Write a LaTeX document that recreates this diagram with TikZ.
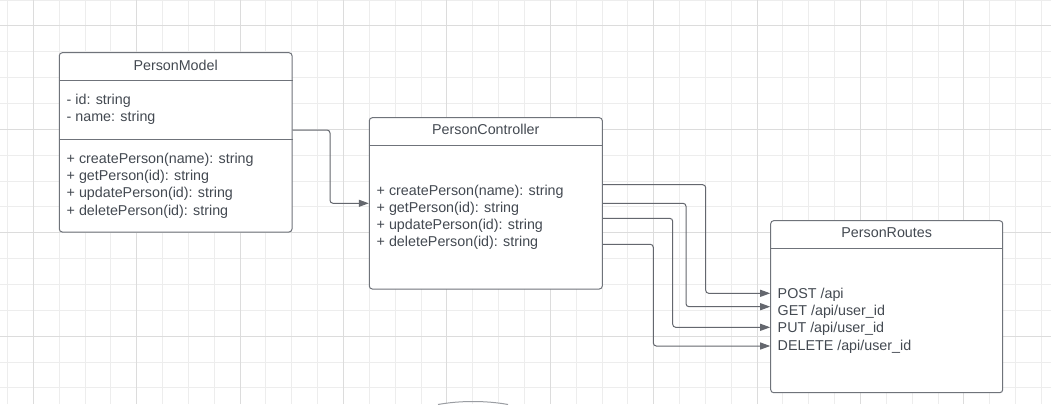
\documentclass[tikz,border=0pt]{standalone}
\usepackage{fontspec}
\setmainfont{Liberation Sans}
\usepackage{tikz}
\usetikzlibrary{arrows.meta, calc}
\definecolor{ink}{HTML}{434951}
\definecolor{frame}{HTML}{6F737A}
\definecolor{gridminor}{HTML}{EDEDED}
\definecolor{gridmajor}{HTML}{DCDCDC}
\tikzset{
    umlbox/.style={draw=frame, line width=1pt, fill=white, rounded corners=3pt, inner sep=0pt},
    umltitle/.style={text=ink, font=\fontsize{14.3}{17.2}\selectfont, inner sep=0pt},
    umltext/.style={umltitle, align=left, anchor=west},
    divider/.style={draw=frame, line width=1pt},
    link/.style={draw=frame!90!black, line width=1pt, rounded corners=3pt, -{Triangle[length=10pt,width=7pt]}},
    minorgrid/.style={draw=gridminor, line width=1pt},
    majorgrid/.style={draw=gridmajor, line width=1pt}
}

\begin{document}
\begin{tikzpicture}[x=1pt, y=-1pt]
    \useasboundingbox (0,0) rectangle (1051,404);
    \fill[white] (0,0) rectangle (1051,404);
    % grid paper
    \foreach \i in {0,...,40}
        \draw[minorgrid] (7.45+25.85*\i,0) -- ++(0,404);
    \foreach \j in {0,...,15}
        \draw[minorgrid] (0,0.15+25.85*\j) -- ++(1051,0);
    \foreach \i in {0,...,9}
        \draw[majorgrid] (33.3+103.4*\i,0) -- ++(0,404);
    \foreach \j in {0,...,3}
        \draw[majorgrid] (0,26+103.4*\j) -- ++(1051,0);

    % classes
    \node[umlbox, minimum width=232.7, minimum height=179.3] (model) at (175.65,142.35) {};
    \node[umlbox, minimum width=233, minimum height=171.3] (ctrl) at (485.8,203.35) {};
    \node[umlbox, minimum width=232, minimum height=172] (routes) at (886.7,306.7) {};
    \draw[divider] (model.west |- 0,80.3) -- (model.east |- 0,80.3);
    \draw[divider] (model.west |- 0,139.3) -- (model.east |- 0,139.3);
    \draw[divider] (ctrl.west |- 0,145) -- (ctrl.east |- 0,145);
    \draw[divider] (routes.west |- 0,248.3) -- (routes.east |- 0,248.3);

    \node[umltitle] (model-title) at (175.65,65.5) {PersonModel};
    \node[umltext] (model-attrs) at (66.5,109.3) {- id: string\\- name: string};
    \node[umltext] (model-ops) at (66.5,185.6) {+ createPerson(name): string\\+ getPerson(id): string\\+ updatePerson(id): string\\+ deletePerson(id): string};
    \node[umltitle] (ctrl-title) at (485.8,129) {PersonController};
    \node[umltext] (ctrl-ops) at (376.5,217.2) {+ createPerson(name): string\\+ getPerson(id): string\\+ updatePerson(id): string\\+ deletePerson(id): string};
    \node[umltitle] (routes-title) at (886.7,233) {PersonRoutes};
    \node[umltext] (routes-ops) at (777.5,320.6) {POST /api\\GET /api/user\_id\\PUT /api/user\_id\\DELETE /api/user\_id};

    % connectors
    \draw[link] (model.east |- 0,130) -- (330,130) -- (330,203.3) -- (ctrl.west |- 0,203.3);
    \foreach \ys/\xv/\ye in {184.7/705.7/293.3, 203.3/686/306.7, 218.3/672.7/327.3, 244.3/653.3/346}
        \draw[link] (ctrl.east |- 0,\ys) -| (\xv,\ye) -- (routes.west |- 0,\ye);

    % shape cut off at the bottom edge
    \draw[frame!70, line width=1pt] (438,404.5) .. controls (460,400.5) and (486,400.5) .. (508,404.5);
\end{tikzpicture}
\end{document}
